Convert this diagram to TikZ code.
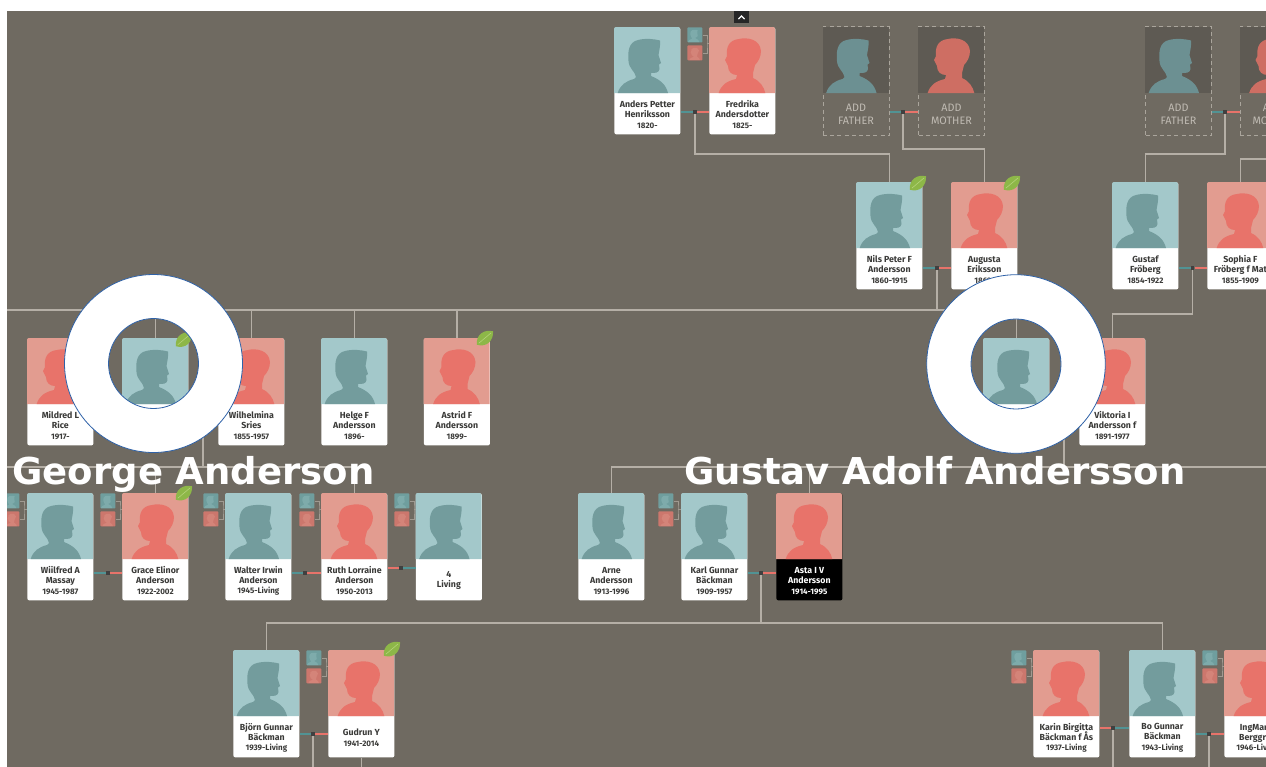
\documentclass[tikz,border=0pt]{standalone}
\usepackage{fontspec}
\setmainfont{Fira Sans}
\newfontfamily\titlefont{DejaVu Sans}
\usepackage{xcolor}
\definecolor{ground}{HTML}{6F6A61}
\definecolor{photom}{HTML}{A3C8CA}
\definecolor{photof}{HTML}{E29C90}
\definecolor{shapem}{HTML}{739C9D}
\definecolor{shapef}{HTML}{E8736A}
\definecolor{addphoto}{HTML}{5E5A53}
\definecolor{addm}{HTML}{6C9092}
\definecolor{addf}{HTML}{CE6E63}
\definecolor{minim}{HTML}{6F9E9E}
\definecolor{minif}{HTML}{CC776D}
\definecolor{branch}{HTML}{B5AFA6}
\definecolor{inkname}{HTML}{3A3A38}
\definecolor{ringblue}{HTML}{2F62A8}
\definecolor{leafgreen}{HTML}{8DB748}
\definecolor{leaflight}{HTML}{B5D27A}
\usetikzlibrary{positioning}

\newcommand{\shapepathm}{(3.7,66) .. controls (6,58) and (12,54) .. (20,52) -- (22,50) .. controls (21,44) and (15,42) .. (14.5,34) .. controls (13.5,24) and (15,15) .. (24,13) .. controls (32,11) and (40,12) .. (46,13.5) .. controls (46.5,20) and (45,24) .. (44.5,28) -- (47,36) -- (45,37.5) -- (45.5,42) .. controls (45,46) and (41,46) .. (37,46) -- (37,49) .. controls (47,53) and (52,58) .. (54,66) -- cycle}
\newcommand{\shapepathf}{(9.7,66) .. controls (12,58) and (18,54) .. (27,52) -- (28,48) .. controls (23,48) and (19,45) .. (19,39) -- (16,33) -- (18,29) .. controls (17,20) and (20,13) .. (30,12) .. controls (38,10) and (51,12) .. (52,24) .. controls (52,30) and (49,35) .. (46,38) -- (44,46) -- (44,51) .. controls (51,54) and (55,60) .. (56.3,66) -- cycle}

\tikzset{
	card/.style={fill=white,rounded corners=1pt,inner sep=0pt,anchor=north west,minimum width=33pt,minimum height=53.5pt},
	cardtext/.style={align=center,inner sep=0pt,text=inkname,font=\bfseries\fontsize{4.4}{5}\selectfont},
	blackcard/.style={fill=black},
	whitetext/.style={text=white},
	addcard/.style={draw=branch!85!ground,dash pattern=on 2pt off 1.6pt,line width=0.5pt,inner sep=0pt,anchor=north west,minimum width=33pt,minimum height=54.5pt},
	addtext/.style={align=center,inner sep=0pt,text=branch!85!white,font=\fontsize{5.4}{6.5}\selectfont},
	mini/.style={inner sep=0pt,anchor=north west,minimum size=7.5pt,rounded corners=0.4pt},
	joindot/.style={fill=black!75,inner sep=0pt,minimum size=1.6pt},
	famline/.style={branch,line width=0.75pt},
	busline/.style={branch,line width=1.3pt},
	stub/.style={branch!70!ground,line width=0.35pt},
	ring/.style={draw=ringblue,line width=0.4pt,fill=white,even odd rule},
	bigname/.style={text=white,inner sep=0pt,anchor=base west,font=\titlefont\bfseries\fontsize{18.5}{22}\selectfont},
}

\newcommand{\dates}[1]{\\[0.4pt]{\fontsize{4}{4}\selectfont #1}}

% id, x, y, m or f, text
\newcommand{\person}[6][]{
	\node[card,#1] (#2) at (#3,#4) {};
	\fill[photo#5,rounded corners=1pt] (#3,#4+66) -- (#3,#4) -- (#3+66,#4) -- (#3+66,#4+66);
	\fill[shape#5,shift={(#3,#4)}] \csname shapepath#5\endcsname;
	\node[cardtext,#1] (#2-t) at ([yshift=10pt]#2.south) {#6};
}
\newcommand{\addparent}[5]{
	\node[addcard] (#1) at (#2,#3) {};
	\fill[addphoto] (#2,#3+1) rectangle (#2+66,#3+67);
	\fill[add#4,shift={(#2,#3+1)}] \csname shapepath#4\endcsname;
	\node[addtext] (#1-t) at ([yshift=11pt]#1.south) {#5};
}
% left, right, x, y, left style, right style
\newcommand{\spouse}[6]{
	\node[joindot] (#1join) at (#3,#4) {};
	\draw[#5,line width=1pt] (#1.east |- #1join) -- (#1join);
	\draw[#6,line width=1pt] (#1join) -- (#2.west |- #1join);
}
% card, x, y
\newcommand{\parents}[3]{
	\node[mini,fill=minim] (#1-pm) at (#2,#3) {};
	\node[mini,fill=minif] (#1-pf) at (#2,#3+18) {};
	\fill[photom!30!minim,shift={(#2,#3)},scale=0.23] \shapepathm;
	\fill[photof!35!minif,shift={(#2,#3+18)},scale=0.23] \shapepathf;
	\coordinate (#1-pc) at (#2+20,#3+16);
	\draw[stub] (#1-pm.east) -| (#1-pc) |- (#1-pf.east);
	\draw[stub] (#1-pc) -- (#1.west |- #1-pc);
}
\newcommand{\leaf}[2]{
	\fill[leafgreen,shift={(#1,#2)},rotate=40] (-10.5,0) .. controls (-5,-8.5) and (5,-7.5) .. (10.5,0) .. controls (5,7.5) and (-5,8.5) .. (-10.5,0);
	\draw[leaflight,line width=0.3pt,shift={(#1,#2)},rotate=40] (-8,0) -- (8,0);
}

\begin{document}
\begin{tikzpicture}[x=0.5pt,y=-0.5pt]
	\useasboundingbox (0,0) rectangle (1266,767);
	\clip (7,11) rectangle (1266,767);
	\fill[ground] (7,11) rectangle (1266,767);

	%ROW 0
	\person{anders}{614}{27}{m}{Anders Petter\\Henriksson\dates{1820-}}
	\person{fredrika}{709}{27}{f}{Fredrika\\Andersdotter\dates{1825-}}
	\addparent{addfa}{822.5}{26}{m}{ADD\\FATHER}
	\addparent{addmo}{918}{26}{f}{ADD\\MOTHER}
	\addparent{addfb}{1145}{26}{m}{ADD\\FATHER}
	\addparent{addmb}{1239.5}{26}{f}{ADD\\MOTHER}
	\node[fill=black!85,inner sep=0pt,minimum width=7.5pt,minimum height=6pt,anchor=north west] (upbtn) at (734,11) {};
	\draw[white,line width=0.7pt] (738.5,19) -- (741.5,16) -- (744.5,19);

	%ROW 1
	\person{nils}{856}{182}{m}{Nils Peter F\\Andersson\dates{1860-1915}}
	\person{augusta}{951}{182}{f}{Augusta\\Eriksson\dates{1862-}}
	\person{gustaf}{1112}{182}{m}{Gustaf\\Fröberg\dates{1854-1922}}
	\person{sophia}{1207}{182}{f}{Sophia F\\Fröberg f Mat\dates{1855-1909}}

	%ROW 2
	\person{mildred}{27}{338}{f}{Mildred L\\Rice\dates{1917-}}
	\person{george}{122}{338}{m}{}
	\person{wilhelmina}{218}{338}{f}{Wilhelmina\\Sries\dates{1855-1957}}
	\person{helge}{321}{338}{m}{Helge F\\Andersson\dates{1896-}}
	\person{astrid}{423.5}{338}{f}{Astrid F\\Andersson\dates{1899-}}
	\person{gustav}{983}{338}{m}{}
	\person{viktoria}{1079}{338}{f}{Viktoria I\\Andersson f\dates{1891-1977}}

	%ROW 3
	\person{wilfred}{27}{493}{m}{Wiilfred A\\Massay\dates{1945-1987}}
	\person{grace}{122}{493}{f}{Grace Elinor\\Anderson\dates{1922-2002}}
	\person{walter}{225}{493}{m}{Walter Irwin\\Anderson\dates{1945-Living}}
	\person{ruth}{321}{493}{f}{Ruth Lorraine\\Anderson\dates{1950-2013}}
	\person{four}{415.5}{493}{m}{4\\Living}
	\person{arne}{578}{493}{m}{Arne\\Andersson\dates{1913-1996}}
	\person{karl}{681}{493}{m}{Karl Gunnar\\Bäckman\dates{1909-1957}}
	\person[blackcard,whitetext]{asta}{776}{493}{f}{Asta I V\\Andersson\dates{1914-1995}}

	%ROW 4
	\person{bjorn}{233}{650}{m}{Björn Gunnar\\Bäckman\dates{1939-Living}}
	\person{gudrun}{328}{650}{f}{Gudrun Y\dates{1941-2014}}
	\person{karin}{1033}{650}{f}{Karin Birgitta\\Bäckman f \smash{Å}s\dates{1937-Living}}
	\person{bo}{1129}{650}{m}{Bo Gunnar\\Bäckman\dates{1943-Living}}
	\person{ingmari}{1224}{650}{f}{IngMarie\\Berggren\dates{1946-Living}}

	%COUPLES
	\spouse{anders}{fredrika}{695}{112}{shapem!70!teal}{shapef}
	\spouse{addfa}{addmo}{903}{112}{shapem!70!teal}{shapef}
	\spouse{addfb}{addmb}{1225}{112}{shapem!70!teal}{shapef}
	\spouse{nils}{augusta}{937}{268}{shapem!70!teal}{shapef}
	\spouse{gustaf}{sophia}{1192.5}{268}{shapem!70!teal}{shapef}
	\spouse{george}{wilhelmina}{203}{425}{shapem!70!teal}{shapef}
	\spouse{gustav}{viktoria}{1064}{425}{shapem!70!teal}{shapef}
	\spouse{wilfred}{grace}{108}{573}{shapem!70!teal}{shapef}
	\spouse{walter}{ruth}{305}{573}{shapem!70!teal}{shapef}
	\spouse{ruth}{four}{401}{568}{shapef}{shapem!70!teal}
	\spouse{karl}{asta}{761}{573}{shapem!70!teal}{shapef}
	\spouse{bjorn}{gudrun}{313}{734}{shapem!70!teal}{shapef}
	\spouse{karin}{bo}{1113}{728}{shapef}{shapem!70!teal}
	\spouse{bo}{ingmari}{1209}{734}{shapem!70!teal}{shapef}

	%LINES BETWEEN GENERATIONS
	\coordinate (busA) at (7,310);
	\coordinate (busB) at (7,467);
	\coordinate (busC) at (1266,467);
	\coordinate (busD) at (1266,159);
	\coordinate (bottom) at (0,767);
	\draw[famline] (andersjoin) -- ++(0,42) -| (nils.north);
	\draw[famline] (addfajoin) -- ++(0,37) -| (augusta.north);
	\draw[famline] (addfbjoin) -- ++(0,42) -| (gustaf.north);
	\draw[famline] (busD) -| (sophia.north);
	\draw[busline] (busA) -- (gustav.north |- busA);
	\draw[famline] (nilsjoin) -- (nilsjoin |- busA);
	\foreach \kid in {george,wilhelmina,helge,astrid,gustav}
		\draw[famline] (\kid.north |- busA) -- (\kid.north);
	\draw[famline] (gustafjoin) -- ++(0,46) -| (viktoria.north);
	\draw[famline] (georgejoin) -- (georgejoin |- busB);
	\draw[famline] (busB) -- (ruth.north |- busB);
	\foreach \kid in {grace,ruth}
		\draw[famline] (\kid.north |- busB) -- (\kid.north);
	\draw[famline] (gustavjoin) -- (gustavjoin |- busB);
	\draw[famline] (arne.north) |- (busC);
	\draw[famline] (asta.north) -- (asta.north |- busB);
	\draw[famline] (karljoin) -- ++(0,50) -| (bjorn.north);
	\draw[famline] (karljoin) -- ++(0,50) -| (bo.north);
	\draw[famline] (bjornjoin) -- (bjornjoin |- bottom);
	\draw[famline] (gudrun.south) -- (gudrun.south |- bottom);
	\draw[famline] (karinjoin) -- (karinjoin |- bottom);
	\draw[famline] (bojoin) -- (bojoin |- bottom);

	%SMALL PARENT ICONS
	\parents{wilfred}{4}{493}
	\parents{grace}{100}{493}
	\parents{walter}{203}{493}
	\parents{ruth}{299}{493}
	\parents{four}{394}{493}
	\parents{fredrika}{687}{27}
	\parents{karl}{658}{493}
	\parents{gudrun}{306}{650}
	\parents{karin}{1011}{650}
	\parents{ingmari}{1202}{650}

	%LEAVES
	\leaf{184}{339.5}
	\leaf{485}{338}
	\leaf{918}{183}
	\leaf{1012}{183}
	\leaf{184}{493}
	\leaf{392}{649}

	%RINGS AND TITLES
	\draw[ring] (153.5,363.5) circle (89) (153.5,363.5) circle (45);
	\draw[ring] (1016,364) circle (89.3) (1016,364) circle (45);
	\node[bigname] (georgename) at (12,484) {George Anderson};
	\node[bigname] (gustavname) at (684,484) {Gustav Adolf Andersson};
\end{tikzpicture}
\end{document}
